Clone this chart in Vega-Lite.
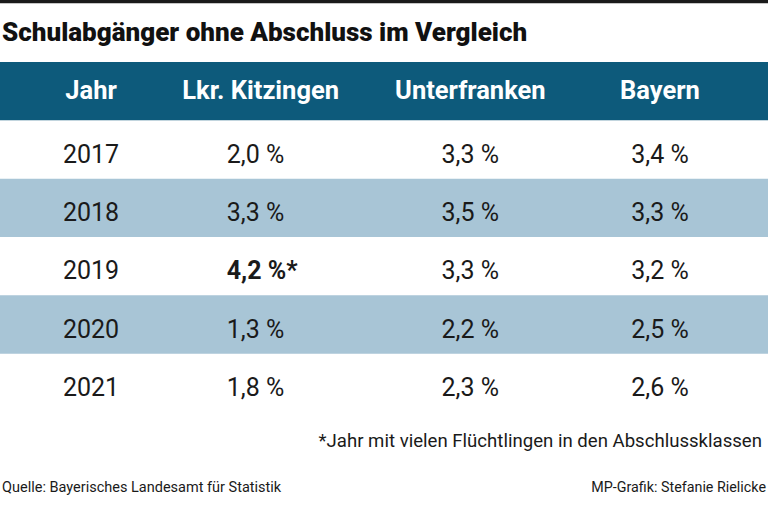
{
  "$schema": "https://vega.github.io/schema/vega-lite/v6.json",
  "width": 768,
  "height": 505,
  "autosize": {"type": "none"},
  "padding": 0,
  "background": "white",
  "config": {"view": {"stroke": null}, "text": {"font": "Roboto", "color": "#1a1a1a"}},
  "datasets": {
    "werte": [
      {"Jahr": "2017", "Region": "Lkr. Kitzingen", "Anteil": 2.0, "Fussnote": ""},
      {"Jahr": "2017", "Region": "Unterfranken", "Anteil": 3.3, "Fussnote": ""},
      {"Jahr": "2017", "Region": "Bayern", "Anteil": 3.4, "Fussnote": ""},
      {"Jahr": "2018", "Region": "Lkr. Kitzingen", "Anteil": 3.3, "Fussnote": ""},
      {"Jahr": "2018", "Region": "Unterfranken", "Anteil": 3.5, "Fussnote": ""},
      {"Jahr": "2018", "Region": "Bayern", "Anteil": 3.3, "Fussnote": ""},
      {"Jahr": "2019", "Region": "Lkr. Kitzingen", "Anteil": 4.2, "Fussnote": "*"},
      {"Jahr": "2019", "Region": "Unterfranken", "Anteil": 3.3, "Fussnote": ""},
      {"Jahr": "2019", "Region": "Bayern", "Anteil": 3.2, "Fussnote": ""},
      {"Jahr": "2020", "Region": "Lkr. Kitzingen", "Anteil": 1.3, "Fussnote": ""},
      {"Jahr": "2020", "Region": "Unterfranken", "Anteil": 2.2, "Fussnote": ""},
      {"Jahr": "2020", "Region": "Bayern", "Anteil": 2.5, "Fussnote": ""},
      {"Jahr": "2021", "Region": "Lkr. Kitzingen", "Anteil": 1.8, "Fussnote": ""},
      {"Jahr": "2021", "Region": "Unterfranken", "Anteil": 2.3, "Fussnote": ""},
      {"Jahr": "2021", "Region": "Bayern", "Anteil": 2.6, "Fussnote": ""}
    ],
    "zeilen": [
      {"Zeile": "Kopf"},
      {"Zeile": "2017"},
      {"Zeile": "2018"},
      {"Zeile": "2019"},
      {"Zeile": "2020"},
      {"Zeile": "2021"}
    ],
    "spalten": [
      {"Spalte": "Jahr"},
      {"Spalte": "Lkr. Kitzingen"},
      {"Spalte": "Unterfranken"},
      {"Spalte": "Bayern"}
    ],
    "notizen": [
      {"Art": "titel", "Zeile": "titel", "Text": "Schulabgänger ohne Abschluss im Vergleich"},
      {"Art": "fussnote", "Zeile": "fuss", "Text": "*Jahr mit vielen Flüchtlingen in den Abschlussklassen"},
      {"Art": "quelle", "Zeile": "quelle", "Text": "Quelle: Bayerisches Landesamt für Statistik"},
      {"Art": "grafik", "Zeile": "quelle", "Text": "MP-Grafik: Stefanie Rielicke"}
    ]
  },
  "layer": [
    {
      "data": {"name": "zeilen"},
      "transform": [{"filter": "datum.Zeile == 'Kopf'"}],
      "mark": {"type": "rect", "color": "#0d5a7b"},
      "encoding": {
        "y": {
          "field": "Zeile",
          "type": "nominal",
          "axis": null,
          "scale": {
            "type": "band",
            "domain": ["titel", "Kopf", "2017", "2018", "2019", "2020", "2021", "fuss", "quelle"],
            "range": [3.67, 528.67],
            "paddingInner": 0,
            "paddingOuter": 0
          }
        }
      }
    },
    {
      "data": {"name": "zeilen"},
      "transform": [{"filter": "datum.Zeile != 'Kopf' && toNumber(datum.Zeile) % 2 == 0"}],
      "mark": {"type": "rect", "color": "#a8c5d6"},
      "encoding": {"y": {"field": "Zeile", "type": "nominal", "axis": null}}
    },
    {
      "data": {"name": "notizen"},
      "transform": [{"filter": "datum.Art == 'titel'"}],
      "mark": {"type": "rule", "color": "#1a1a1a", "strokeWidth": 4, "yOffset": -31.5},
      "encoding": {"y": {"field": "Zeile", "type": "nominal", "axis": null}}
    },
    {
      "data": {"name": "spalten"},
      "transform": [{"filter": "datum.Spalte != 'Lkr. Kitzingen'"}],
      "mark": {"type": "text", "color": "white", "fontWeight": "bold", "fontSize": 25.5, "baseline": "middle"},
      "encoding": {
        "x": {
          "field": "Spalte",
          "type": "nominal",
          "axis": null,
          "scale": {"type": "point", "domain": ["Jahr", "Lkr. Kitzingen", "Unterfranken", "Bayern"], "range": [91, 660], "padding": 0}
        },
        "y": {"datum": "Kopf", "type": "nominal"},
        "text": {"field": "Spalte"}
      }
    },
    {
      "data": {"name": "spalten"},
      "transform": [{"filter": "datum.Spalte == 'Lkr. Kitzingen'"}],
      "mark": {"type": "text", "color": "white", "fontWeight": "bold", "fontSize": 25.5, "baseline": "middle", "xOffset": -20},
      "encoding": {
        "x": {"field": "Spalte", "type": "nominal", "axis": null},
        "y": {"datum": "Kopf", "type": "nominal"},
        "text": {"field": "Spalte"}
      }
    },
    {
      "data": {"name": "zeilen"},
      "transform": [{"filter": "datum.Zeile != 'Kopf'"}],
      "mark": {"type": "text", "fontSize": 25, "baseline": "middle", "yOffset": 5},
      "encoding": {
        "x": {"datum": "Jahr", "type": "nominal"},
        "y": {"field": "Zeile", "type": "nominal"},
        "text": {"field": "Zeile"}
      }
    },
    {
      "data": {"name": "werte"},
      "transform": [
        {"filter": "datum.Region != 'Lkr. Kitzingen'"},
        {"calculate": "replace(format(datum.Anteil, '.1f'), '.', ',') + ' %'", "as": "Label"}
      ],
      "mark": {"type": "text", "fontSize": 25, "baseline": "middle", "yOffset": 5},
      "encoding": {
        "x": {"field": "Region", "type": "nominal"},
        "y": {"field": "Jahr", "type": "nominal"},
        "text": {"field": "Label"}
      }
    },
    {
      "data": {"name": "werte"},
      "transform": [
        {"filter": "datum.Region == 'Lkr. Kitzingen' && datum.Fussnote == ''"},
        {"calculate": "replace(format(datum.Anteil, '.1f'), '.', ',') + ' %'", "as": "Label"}
      ],
      "mark": {"type": "text", "fontSize": 25, "baseline": "middle", "align": "left", "xOffset": -54, "yOffset": 5},
      "encoding": {
        "x": {"field": "Region", "type": "nominal"},
        "y": {"field": "Jahr", "type": "nominal"},
        "text": {"field": "Label"}
      }
    },
    {
      "data": {"name": "werte"},
      "transform": [
        {"filter": "datum.Region == 'Lkr. Kitzingen' && datum.Fussnote != ''"},
        {"calculate": "replace(format(datum.Anteil, '.1f'), '.', ',') + ' %' + datum.Fussnote", "as": "Label"}
      ],
      "mark": {"type": "text", "fontSize": 25, "fontWeight": "bold", "baseline": "middle", "align": "left", "xOffset": -54, "yOffset": 5},
      "encoding": {
        "x": {"field": "Region", "type": "nominal"},
        "y": {"field": "Jahr", "type": "nominal"},
        "text": {"field": "Label"}
      }
    },
    {
      "data": {"name": "notizen"},
      "transform": [{"filter": "datum.Art == 'titel'"}],
      "mark": {"type": "text", "fontSize": 26, "fontWeight": 900, "baseline": "middle", "align": "left", "color": "#111111"},
      "encoding": {
        "x": {"value": 2},
        "y": {"field": "Zeile", "type": "nominal"},
        "text": {"field": "Text"}
      }
    },
    {
      "data": {"name": "notizen"},
      "transform": [{"filter": "datum.Art == 'fussnote'"}],
      "mark": {"type": "text", "fontSize": 18.6, "baseline": "middle", "align": "right"},
      "encoding": {
        "x": {"value": 762},
        "y": {"field": "Zeile", "type": "nominal"},
        "text": {"field": "Text"}
      }
    },
    {
      "data": {"name": "notizen"},
      "transform": [{"filter": "datum.Art == 'quelle'"}],
      "mark": {"type": "text", "fontSize": 14.5, "baseline": "middle", "align": "left", "yOffset": -12},
      "encoding": {
        "x": {"value": 2},
        "y": {"field": "Zeile", "type": "nominal"},
        "text": {"field": "Text"}
      }
    },
    {
      "data": {"name": "notizen"},
      "transform": [{"filter": "datum.Art == 'grafik'"}],
      "mark": {"type": "text", "fontSize": 14.3, "baseline": "middle", "align": "right", "yOffset": -12},
      "encoding": {
        "x": {"value": 766},
        "y": {"field": "Zeile", "type": "nominal"},
        "text": {"field": "Text"}
      }
    }
  ]
}
